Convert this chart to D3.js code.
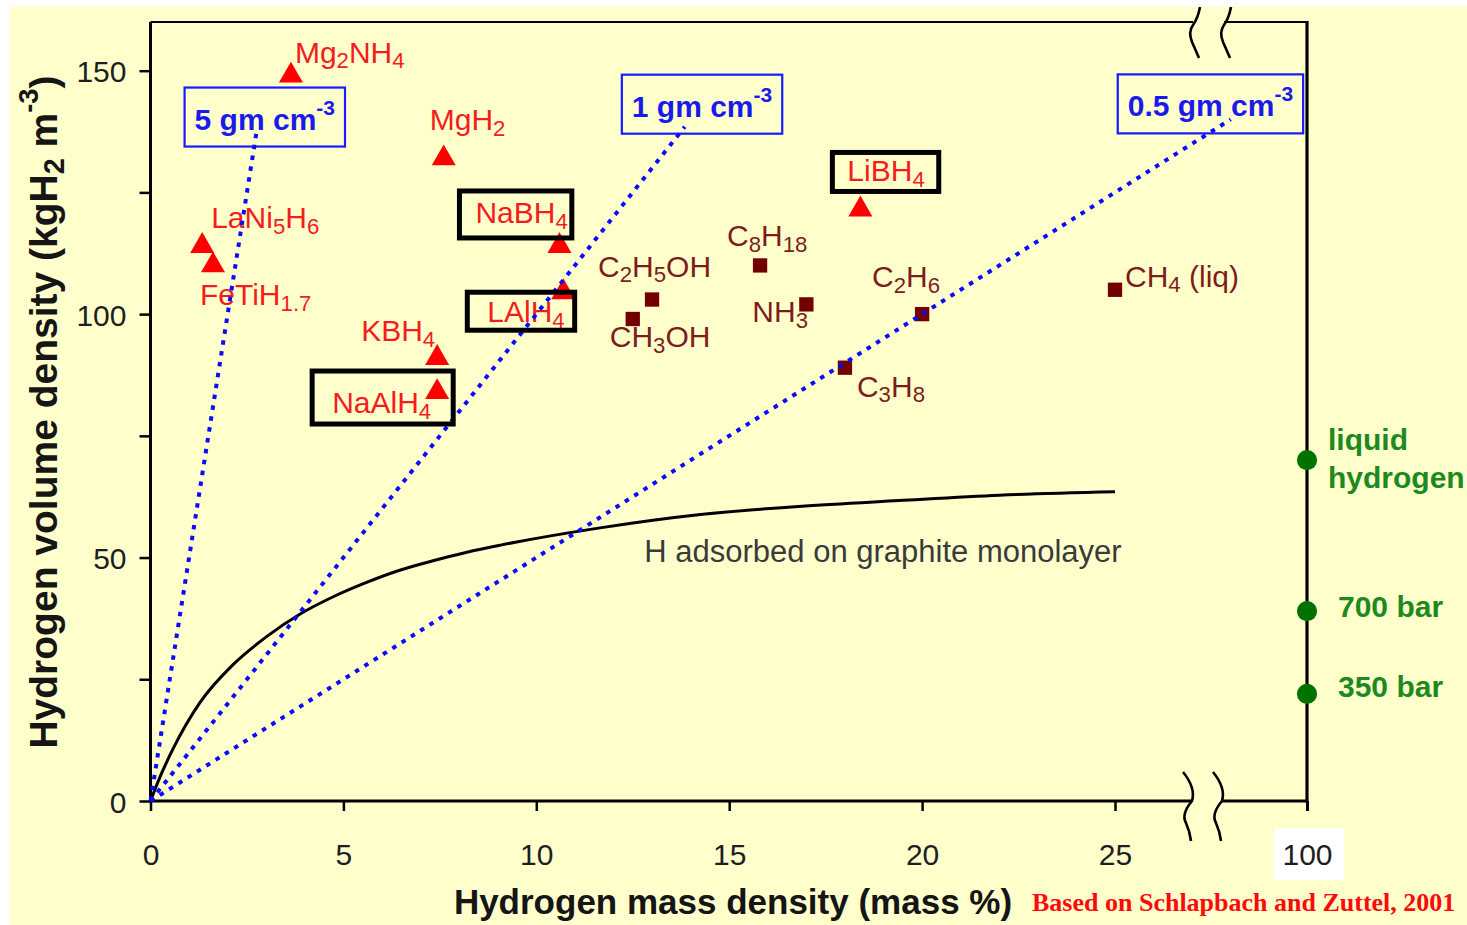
<!DOCTYPE html>
<html>
<head>
<meta charset="utf-8">
<script src="https://cdn.jsdelivr.net/npm/d3@7"></script>
<style>
  html, body { margin: 0; padding: 0; background: #ffffff; }
  svg { display: block; }
  text { white-space: pre; }
</style>
</head>
<body>
<svg id="chart" width="1467" height="925"></svg>
<script>
// ---------------- data ----------------
// Metal / complex hydrides (red triangles)
const hydrideNames  = ["Mg{2}NH{4}", "MgH{2}", "LaNi{5}H{6}", "FeTiH{1.7}", "KBH{4}", "NaAlH{4}", "NaBH{4}", "LAlH{4}", "LiBH{4}"];
const hydrideMass   = [3.64, 7.6, 1.34, 1.62, 7.43, 7.43, 10.6, 10.7, 18.4];
const hydrideVolume = [149, 132, 114, 110, 91, 84, 114, 104.5, 121.5];

// Hydrocarbons, alcohols, ammonia (dark red squares)
const fuelNames  = ["C{2}H{5}OH", "CH{3}OH", "C{8}H{18}", "NH{3}", "C{2}H{6}", "C{3}H{8}", "CH{4} (liq)"];
const fuelMass   = [13, 12.5, 15.8, 17, 20, 18, 25];
const fuelVolume = [103, 99, 110, 102, 100, 89, 105];

// Pure hydrogen (100 mass %) storage states (green dots)
const pureNames  = [["liquid", "hydrogen"], ["700 bar"], ["350 bar"]];
const pureMass   = [100, 100, 100];
const pureVolume = [70, 39, 22];

// Lines of constant material density, g cm^-3
const densityLabels    = ["5 gm cm^{-3}", "1 gm cm^{-3}", "0.5 gm cm^{-3}"];
const densityEndMass   = [2.75, 13.85, 28];
const densityEndVolume = [137.5, 138.5, 140];

// H adsorbed on a graphite monolayer
const graphiteMass   = [0, 0.25, 0.59, 1.28, 2.14, 3.0, 3.9, 4.75, 5.6, 6.5, 7.3, 8.2, 9.1, 11.65, 14.2, 16.8, 19.4, 22, 25];
const graphiteVolume = [0, 5.0, 10.8, 20.2, 28.0, 33.7, 38.5, 42, 44.9, 47.5, 49.3, 51.1, 52.6, 56.1, 58.8, 60.5, 61.7, 62.8, 63.5];
const graphiteLabel  = "H adsorbed on graphite monolayer";

// Axis ticks
const xTicks      = [0, 5, 10, 15, 20, 25];
const xFarTicks   = [100];
const yTicks      = [0, 25, 50, 75, 100, 125, 150];
const yTickLabels = [0, 50, 100, 150];

const xTitle = "Hydrogen mass density (mass %)";
const yTitle = "Hydrogen volume density (kgH{2} m^{-3})";
const credit = "Based on Schlapbach and Zuttel, 2001";

// ---------------- layout ----------------
const plot = { left: 150.5, right: 1307, top: 22, bottom: 801, axisBreak: 1115 };

// label anchors, pixel offsets from each marker
const hydrideLabelOffset = [[4, -13], [-14, -28], [9, -18], [-13, 40], [-76, -17], [-105, 21], [-84, -23], [-76, 30], [-13, -28]];
const fuelLabelOffset    = [[-54, -23], [-23, 28], [-33, -19], [-54, 18], [-50, -27], [12, 29], [10, -3]];
const pureLabelOffset    = [[21, -10], [31, 6], [31, 3]];
const densityLabelOffset = [[-62, -2], [-53, -10], [-103, -3]];

// black frames around the complex hydrides: [left, top, right, bottom] padding around text
const framedHydrides = { "NaBH{4}": [16, 32, 4, 15], "LAlH{4}": [20, 30, 10, 8], "NaAlH{4}": [20, 42, 22, 11], "LiBH{4}": [15, 29, 14, 10] };

const SANS  = "'Liberation Sans', Arial, Helvetica, sans-serif";
const SERIF = "'Liberation Serif', 'Times New Roman', serif";

// ---------------- scales ----------------
const x    = d3.scaleLinear().domain([0, 25]).range([plot.left, plot.axisBreak]);
const xFar = d3.scaleLinear().domain([25, 100]).range([plot.axisBreak, plot.right]);
const y    = d3.scaleLinear().domain([0, 160]).range([plot.bottom, plot.top]);
const xAny = v => (v > 50 ? xFar(v) : x(v));

const svg = d3.select("#chart");

// background
svg.append("rect").attr("x", 10).attr("y", 7).attr("width", 1457).attr("height", 918).attr("fill", "#ffffcc");

// white patch behind the far tick label
svg.append("rect").attr("x", xFar(100) - 33).attr("y", 828).attr("width", 70).attr("height", 52).attr("fill", "#ffffff");

// rich text: {..} subscript, ^{..} superscript
function rich(sel, str, size) {
  const re = /\^\{([^}]*)\}|\{([^}]*)\}|([^{^]+)/g;
  let m, shift = 0;
  while ((m = re.exec(str))) {
    let target = 0, fs = size, txt;
    if (m[1] !== undefined) { target = -0.5 * size; fs = 0.7 * size; txt = m[1]; }
    else if (m[2] !== undefined) { target = 0.19 * size; fs = 0.74 * size; txt = m[2]; }
    else { txt = m[3]; }
    sel.append("tspan").attr("dy", (target - shift).toFixed(2)).attr("font-size", fs).text(txt);
    shift = target;
  }
  return sel;
}

// ---------------- axes ----------------
const gAxes = svg.append("g");

const yAxis = d3.axisLeft(y).tickValues(yTicks).tickSize(11).tickPadding(13)
  .tickFormat(d => (yTickLabels.includes(d) ? d : ""));
gAxes.append("g").attr("transform", `translate(${plot.left},0)`).call(yAxis)
  .call(g => g.select(".domain").remove())
  .call(g => g.selectAll(".tick line").attr("stroke", "#000").attr("stroke-width", 2.5))
  .call(g => g.selectAll(".tick text").attr("font-family", SANS).attr("font-size", 30)
    .attr("fill", "#1e1e1e").attr("dy", "0.37em"));

const xAxis = d3.axisBottom(x).tickValues(xTicks).tickSize(10).tickPadding(33);
gAxes.append("g").attr("transform", `translate(0,${plot.bottom})`).call(xAxis)
  .call(g => g.select(".domain").remove())
  .call(g => g.selectAll(".tick line").attr("stroke", "#000").attr("stroke-width", 2.5))
  .call(g => g.selectAll(".tick text").attr("font-family", SANS).attr("font-size", 30).attr("fill", "#1e1e1e"));

const xFarAxis = d3.axisBottom(xFar).tickValues(xFarTicks).tickSize(10).tickPadding(33);
gAxes.append("g").attr("transform", `translate(0,${plot.bottom})`).call(xFarAxis)
  .call(g => g.select(".domain").remove())
  .call(g => g.selectAll(".tick line").attr("stroke", "#000").attr("stroke-width", 3))
  .call(g => g.selectAll(".tick text").attr("font-family", SANS).attr("font-size", 30).attr("fill", "#1e1e1e"));

// frame with axis breaks
const brkBottom = [1192, 1222], brkTop = [1193, 1224];
const frame = [
  [[plot.left, plot.top], [plot.left, plot.bottom], 3],
  [[plot.left - 1.5, plot.bottom], [brkBottom[0], plot.bottom], 3],
  [[brkBottom[1], plot.bottom], [plot.right, plot.bottom], 3],
  [[plot.left, plot.top], [brkTop[0], plot.top], 2.2],
  [[brkTop[1], plot.top], [plot.right, plot.top], 2.2],
  [[plot.right, plot.top - 1], [plot.right, plot.bottom + 1.5], 3.2]
];
frame.forEach(([a, b, w]) => gAxes.append("line").attr("x1", a[0]).attr("y1", a[1]).attr("x2", b[0]).attr("y2", b[1])
  .attr("stroke", "#000").attr("stroke-width", w));

// break squiggles
brkBottom.forEach(cx => {
  const c = plot.bottom;
  gAxes.append("path")
    .attr("d", `M${cx - 9},${c - 29} Q${cx + 4},${c - 13} ${cx},${c} Q${cx - 11},${c + 13} ${cx - 6},${c + 22} Q${cx - 2},${c + 31} ${cx - 1},${c + 40}`)
    .attr("fill", "none").attr("stroke", "#000").attr("stroke-width", 2.6);
});
brkTop.forEach(cx => {
  const c = plot.top;
  gAxes.append("path")
    .attr("d", `M${cx + 7},${c - 15} Q${cx + 5},${c - 4} ${cx},${c + 3} Q${cx - 5},${c + 10} ${cx - 1},${c + 20} Q${cx + 3},${c + 29} ${cx + 6},${c + 36}`)
    .attr("fill", "none").attr("stroke", "#000").attr("stroke-width", 2.6);
});

// axis titles
svg.append("text").attr("x", 733).attr("y", 914).attr("text-anchor", "middle")
  .attr("font-family", SANS).attr("font-weight", "bold").attr("font-size", 35).attr("fill", "#151515").text(xTitle);

rich(svg.append("text").attr("transform", "translate(57,412) rotate(-90)").attr("text-anchor", "middle")
  .attr("font-family", SANS).attr("font-weight", "bold").attr("fill", "#151515"), yTitle, 39);

svg.append("text").attr("x", 1032).attr("y", 911)
  .attr("font-family", SERIF).attr("font-weight", "bold").attr("font-size", 26).attr("fill", "#ff0a0a").text(credit);

// ---------------- graphite monolayer curve ----------------
const graphite = graphiteMass.map((m, i) => [m, graphiteVolume[i]]);
svg.append("path").datum(graphite)
  .attr("d", d3.line().x(d => x(d[0])).y(d => y(d[1])).curve(d3.curveMonotoneX))
  .attr("fill", "none").attr("stroke", "#000").attr("stroke-width", 3);
svg.append("text").attr("x", x(12.8)).attr("y", y(49))
  .attr("font-family", SANS).attr("font-size", 31).attr("fill", "#3a3a3a").text(graphiteLabel);

// ---------------- markers ----------------
const hydrides = hydrideNames.map((n, i) => ({ name: n, mass: hydrideMass[i], vol: hydrideVolume[i], off: hydrideLabelOffset[i] }));
const fuels    = fuelNames.map((n, i) => ({ name: n, mass: fuelMass[i], vol: fuelVolume[i], off: fuelLabelOffset[i] }));
const pures    = pureNames.map((n, i) => ({ name: n, mass: pureMass[i], vol: pureVolume[i], off: pureLabelOffset[i] }));

svg.append("g").selectAll("path").data(hydrides).join("path")
  .attr("transform", d => `translate(${x(d.mass)},${y(d.vol)})`)
  .attr("d", d3.symbol(d3.symbolTriangle, 250))
  .attr("fill", "#ff0000");

svg.append("g").selectAll("path").data(fuels).join("path")
  .attr("transform", d => `translate(${x(d.mass)},${y(d.vol)})`)
  .attr("d", d3.symbol(d3.symbolSquare, 205))
  .attr("fill", "#720000");

svg.append("g").selectAll("path").data(pures).join("path")
  .attr("transform", d => `translate(${xAny(d.mass)},${y(d.vol)})`)
  .attr("d", d3.symbol(d3.symbolCircle, 320))
  .attr("fill", "#007200");

// ---------------- labels ----------------
const hydrideText = svg.append("g").selectAll("text").data(hydrides).join("text")
  .attr("x", d => x(d.mass) + d.off[0]).attr("y", d => y(d.vol) + d.off[1])
  .attr("font-family", SANS).attr("fill", "#f41c1c")
  .each(function (d) { rich(d3.select(this), d.name, 30); });

svg.append("g").selectAll("text").data(fuels).join("text")
  .attr("x", d => x(d.mass) + d.off[0]).attr("y", d => y(d.vol) + d.off[1])
  .attr("font-family", SANS).attr("fill", "#7e1c1c")
  .each(function (d) { rich(d3.select(this), d.name, 30); });

svg.append("g").selectAll("text").data(pures).join("text")
  .attr("font-family", SANS).attr("font-weight", "bold").attr("font-size", 30).attr("fill", "#1e8a1e")
  .each(function (d) {
    const t = d3.select(this), x0 = xAny(d.mass) + d.off[0], y0 = y(d.vol) + d.off[1];
    d.name.forEach((line, k) => t.append("tspan").attr("x", x0).attr("y", y0 + k * 38).text(line));
  });

// ---------------- constant-density lines ----------------
const densities = densityLabels.map((l, i) => ({ label: l, end: [densityEndMass[i], densityEndVolume[i]], off: densityLabelOffset[i] }));

const dGroup = svg.append("g");
densities.forEach(d => {
  const ex = x(d.end[0]), ey = y(d.end[1]);
  const t = rich(dGroup.append("text").attr("x", ex + d.off[0]).attr("y", ey + d.off[1])
    .attr("font-family", SANS).attr("font-weight", "bold").attr("fill", "#1a1aee"), d.label, 30);
  const bb = t.node().getBBox();
  const bx = ex + d.off[0] - 10, by = ey + d.off[1] - 42;
  dGroup.insert("rect", "text").attr("x", bx).attr("y", by)
    .attr("width", Math.min(bb.x + bb.width + 10, plot.right) - bx).attr("height", 59)
    .attr("fill", "none").attr("stroke", "#1a1aff").attr("stroke-width", 2.2);
});

svg.append("g").selectAll("path").data(densities).join("path")
  .attr("d", d => d3.line()([[x(0), y(0)], [x(d.end[0]), y(d.end[1])]]))
  .attr("fill", "none").attr("stroke", "#0a0aff").attr("stroke-width", 4)
  .attr("stroke-dasharray", "4.5 6.5");

// ---------------- frames around the complex hydrides ----------------
hydrideText.filter(d => framedHydrides[d.name]).each(function (d) {
  const p = framedHydrides[d.name];
  const bb = this.getBBox();
  const bx = x(d.mass) + d.off[0], by = y(d.vol) + d.off[1];
  svg.append("rect")
    .attr("x", bx - p[0]).attr("y", by - p[1])
    .attr("width", (bb.x + bb.width + p[2]) - (bx - p[0])).attr("height", p[1] + p[3])
    .attr("fill", "none").attr("stroke", "#000").attr("stroke-width", 5);
});
</script>
</body>
</html>
